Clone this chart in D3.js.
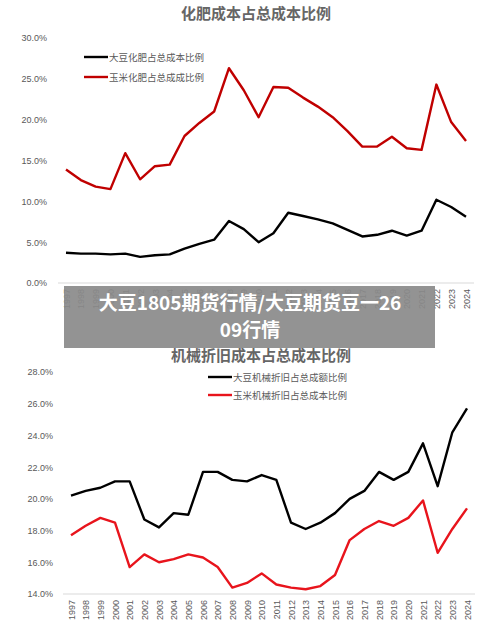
<!DOCTYPE html><html><head><meta charset="utf-8"><script src="https://cdn.jsdelivr.net/npm/d3@7"></script>
<style>body{margin:0;background:#fff}svg{display:block}</style></head><body><svg width="500" height="635"></svg>
<script>
const years=["1997","1998","1999","2000","2001","2002","2003","2004","2005","2006","2007","2008","2009","2010","2011","2012","2013","2014","2015","2016","2017","2018","2019","2020","2021","2022","2023","2024"];
const soyFert=[3.7,3.6,3.6,3.5,3.6,3.2,3.4,3.5,4.2,4.8,5.3,7.6,6.6,5.0,6.1,8.6,8.2,7.8,7.3,6.5,5.7,5.9,6.4,5.8,6.4,10.2,9.3,8.1];
const cornFert=[13.9,12.6,11.8,11.5,15.9,12.7,14.3,14.5,18.0,19.6,21.0,26.3,23.6,20.3,24.0,23.9,22.7,21.6,20.3,18.6,16.7,16.7,17.9,16.5,16.3,24.3,19.7,17.4];
const soyMach=[20.2,20.5,20.7,21.1,21.1,18.7,18.2,19.1,19.0,21.7,21.7,21.2,21.1,21.5,21.2,18.5,18.1,18.5,19.1,20.0,20.5,21.7,21.2,21.7,23.5,20.8,24.2,25.7];
const cornMach=[17.7,18.3,18.8,18.5,15.7,16.5,16.0,16.2,16.5,16.3,15.7,14.4,14.7,15.3,14.6,14.4,14.3,14.5,15.2,17.4,18.1,18.6,18.3,18.8,19.9,16.6,18.1,19.4];
const ticks1=[0,5,10,15,20,25,30], ticks2=[14,16,18,20,22,24,26,28];
const svg=d3.select("svg");const F="'Noto Sans CJK SC',sans-serif";
function chart(o){
  const g=svg.append("g");
  g.append("text").attr("x",o.tx).attr("y",o.ty).attr("text-anchor","middle").attr("font-family",F).attr("font-size",15).attr("font-weight","bold").attr("fill","#666").text(o.title);
  const x=d3.scalePoint().domain(years).range([o.x0,o.x1]);
  const y=d3.scaleLinear().domain(o.dom).range([o.yb,o.yt]);
  g.append("line").attr("x1",o.x0-8).attr("x2",o.x1+8).attr("y1",o.yb).attr("y2",o.yb).attr("stroke","#d9d9d9");
  const ya=g.append("g").attr("transform",`translate(${o.lx},0)`).call(d3.axisLeft(y).tickValues(o.ticks).tickSize(0).tickFormat(d=>d.toFixed(1)+"%"));
  ya.select(".domain").remove();ya.selectAll("text").attr("font-family","Liberation Sans,sans-serif").attr("font-size",9).attr("fill","#595959");
  const xa=g.append("g").attr("transform",`translate(0,${o.yb+4})`).call(d3.axisBottom(x).tickSize(0));
  xa.select(".domain").remove();
  xa.selectAll("text").attr("font-family","Liberation Sans,sans-serif").attr("font-size",9).attr("fill","#595959").attr("transform","rotate(-90)").attr("text-anchor","end").attr("dx","-2").attr("x",0).attr("y",0).attr("dy","0.35em");
  o.series.forEach((s,i)=>{
    g.append("path").datum(s.v).attr("fill","none").attr("stroke",s.c).attr("stroke-width",2.4).attr("stroke-linejoin","round")
     .attr("d",d3.line().x((d,j)=>x(years[j])).y(d=>y(d)));
    const ly=o.ly+i*o.lg;
    g.append("line").attr("x1",o.lgx).attr("x2",o.lgx+24).attr("y1",ly).attr("y2",ly).attr("stroke",s.c).attr("stroke-width",2.4);
    g.append("text").attr("x",o.lgx+25).attr("y",ly+4).attr("font-family",F).attr("font-size",9.5).attr("fill","#595959").text(s.n);
  });
}
chart({title:"化肥成本占总成本比例",tx:256,ty:19,x0:66,x1:466,yt:38,yb:283,dom:[0,30],ticks:ticks1,lx:50,ly:57,lg:20,lgx:84,
 series:[{n:"大豆化肥占总成本比例",v:soyFert,c:"#000"},{n:"玉米化肥占总成成比例",v:cornFert,c:"#c00000"}]});
chart({title:"机械折旧成本占总成本比例",tx:261,ty:361,x0:71,x1:467,yt:372,yb:594,dom:[14,28],ticks:ticks2,lx:56,ly:377,lg:18,lgx:208,
 series:[{n:"大豆机械折旧占总成额比例",v:soyMach,c:"#000"},{n:"玉米机械折旧占总成本比例",v:cornMach,c:"#e8141c"}]});
svg.append("rect").attr("x",64).attr("y",286).attr("width",371).attr("height",62).attr("fill","#8a8a8a").attr("opacity",0.92);
svg.append("text").attr("x",250).attr("y",310).attr("text-anchor","middle").attr("font-family",F).attr("font-size",19).attr("font-weight","bold").attr("fill","#fff").text("大豆1805期货行情/大豆期货豆一26");
svg.append("text").attr("x",250).attr("y",337).attr("text-anchor","middle").attr("font-family",F).attr("font-size",19).attr("font-weight","bold").attr("fill","#fff").text("09行情");
</script></body></html>
